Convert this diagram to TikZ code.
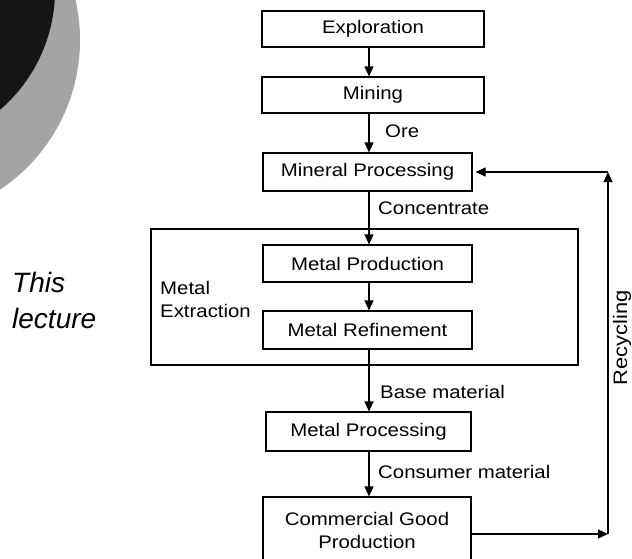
\documentclass[tikz,border=0pt]{standalone}
\usepackage{fontspec}
\setmainfont{Liberation Sans}
\newfontfamily\flowfont{Liberation Sans}[FakeStretch=1.12]
\usetikzlibrary{arrows.meta, positioning, calc}
\definecolor{ring}{HTML}{A4A4A4}
\definecolor{disk}{HTML}{151515}

\begin{document}
\begin{tikzpicture}[
    x=1pt, y=-1pt,
    stage/.style={draw, line width=1.2pt, inner sep=0pt, align=center,
                  font=\flowfont\fontsize{18.2}{23}\selectfont},
    flow/.style={font=\flowfont\fontsize{18.2}{23}\selectfont, anchor=west, inner sep=0pt},
    arr/.style={line width=1.2pt, -{Triangle[length=10pt, width=9pt]}}
  ]
  \useasboundingbox (0,0) rectangle (632,558);
  \clip (0,0) rectangle (632,558);

  % decoration in the corner
  \fill[ring] (-100,40) circle (180);
  \fill[disk] (-103,-10) circle (158);

  % process chain
  \coordinate (spine) at (369,0);
  \node[stage, minimum width=222pt, minimum height=36pt] (explore) at (373,29) {Exploration};
  \node[stage, minimum width=222pt, minimum height=36pt] (mining) at (373,95) {Mining};
  \node[stage, minimum width=209pt, minimum height=38pt] (minproc) at (367.5,172) {Mineral Processing};
  \node[stage, minimum width=209pt, minimum height=37pt] (metprod) at (367.5,263.5) {Metal Production};
  \node[stage, minimum width=209pt, minimum height=38pt] (metref) at (367.5,330) {Metal Refinement};
  \node[stage, minimum width=205pt, minimum height=39pt] (metproc) at (368.5,431.5) {Metal Processing};
  \node[stage, minimum width=208pt, minimum height=66pt] (comgood) at (367,530) {Commercial Good\\Production};

  % metal extraction frame
  \node[draw, line width=1.2pt, inner sep=0pt, minimum width=427pt, minimum height=136pt] (extract) at (364.5,297) {};
  \node[flow, align=left] (extractlbl) at (160,299) {Metal\\Extraction};

  \draw[arr] (explore.south -| spine) -- (mining.north -| spine);
  \draw[arr] (mining.south -| spine) -- (minproc.north -| spine);
  \draw[arr] (minproc.south -| spine) -- (metprod.north -| spine);
  \draw[arr] (metprod.south -| spine) -- (metref.north -| spine);
  \draw[arr] (metref.south -| spine) -- (metproc.north -| spine);
  \draw[arr] (metproc.south -| spine) -- (comgood.north -| spine);

  \node[flow] (ore) at (385,131) {Ore};
  \node[flow] (conc) at (378,208) {Concentrate};
  \node[flow] (base) at (380,392) {Base material};
  \node[flow] (consumer) at (378,472) {Consumer material};

  % recycling loop
  \coordinate (recbot) at (608,534);
  \coordinate (rectop) at (608,172);
  \draw[arr] (comgood.east |- recbot) -- (recbot);
  \draw[arr] (recbot) -- (rectop);
  \draw[arr, shorten >=3pt] (rectop) -- (minproc.east);
  \node[font=\flowfont\fontsize{19.5}{23}\selectfont, rotate=90, inner sep=0pt] (recycle) at (622,338) {Recycling};

  % side note
  \node[anchor=north west, align=left, inner sep=0pt,
        font=\fontsize{28}{36}\selectfont\itshape] (lecture) at (12,272) {This\\lecture};
\end{tikzpicture}
\end{document}
